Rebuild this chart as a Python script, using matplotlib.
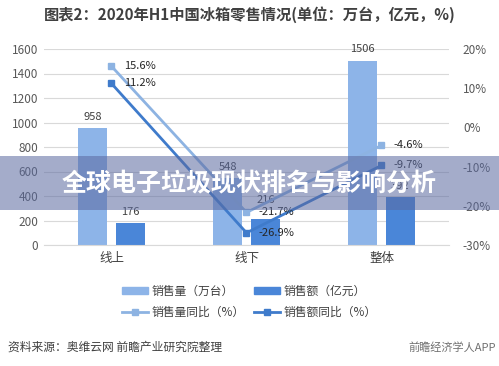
import numpy as np
import matplotlib.pyplot as plt
from matplotlib.patches import Rectangle
from matplotlib.lines import Line2D
from matplotlib.patches import Patch

plt.rcParams['font.family'] = ['Noto Sans CJK SC', 'DejaVu Sans']

categories = ['线上', '线下', '整体']
sales_volume = [958, 548, 1506]      # 销售量（万台）
sales_amount = [176, 216, 392]       # 销售额（亿元）
volume_yoy = [15.6, -21.7, -4.6]     # 销售量同比（%）
amount_yoy = [11.2, -26.9, -9.7]     # 销售额同比（%）

c_light = '#8DB4E8'
c_dark = '#4A86D8'
c_line_light = '#8DB3E2'
c_line_dark = '#3F7BCB'

fig = plt.figure(figsize=(4.99, 3.66), dpi=100)
ax1 = fig.add_axes([44 / 499, 1 - 245 / 366, 405 / 499, 196 / 366])

x = np.arange(len(categories))
w = 0.22
off = 0.14
ax1.bar(x - off, sales_volume, w, color=c_light, zorder=2)
ax1.bar(x + off, sales_amount, w, color=c_dark, zorder=2)
# 数据标签，线下销售额标签上移避免与折线标签重叠
amt_label_gap = [50, 110, 50]
for i in range(len(x)):
    ax1.text(x[i] - off, sales_volume[i] + 50, str(sales_volume[i]),
             ha='center', va='bottom', fontsize=8, color='#404040')
    ax1.text(x[i] + off, sales_amount[i] + amt_label_gap[i], str(sales_amount[i]),
             ha='center', va='bottom', fontsize=8, color='#404040')

ax1.set_xlim(-0.5, 2.5)
ax1.set_ylim(0, 1600)
ax1.set_yticks(range(0, 1601, 200))
ax1.set_xticks(x)
ax1.set_xticklabels(categories, fontsize=9, color='#404040')
ax1.tick_params(axis='y', labelsize=8.5, colors='#595959', length=0, pad=4)
ax1.tick_params(axis='x', length=0, pad=5)
ax1.grid(axis='y', color='#D9D9D9', linewidth=0.8, zorder=0)
for s in ['top', 'left', 'right']:
    ax1.spines[s].set_visible(False)
ax1.spines['bottom'].set_color('#D9D9D9')

ax2 = ax1.twinx()
ax2.plot(x, volume_yoy, color=c_line_light, marker='s', markersize=4, linewidth=2, zorder=3)
ax2.plot(x, amount_yoy, color=c_line_dark, marker='s', markersize=4, linewidth=2, zorder=3)
for i in range(len(x)):
    ax2.text(x[i] + 0.09, volume_yoy[i], '%.1f%%' % volume_yoy[i],
             ha='left', va='center', fontsize=8, color='#262626')
    ax2.text(x[i] + 0.09, amount_yoy[i], '%.1f%%' % amount_yoy[i],
             ha='left', va='center', fontsize=8, color='#262626')
ax2.set_ylim(-30, 20)
ax2.set_yticks(range(-30, 21, 10))
ax2.set_yticklabels(['%d%%' % v for v in range(-30, 21, 10)])
ax2.tick_params(axis='y', labelsize=8.5, colors='#595959', length=0, pad=10)
for s in ['top', 'left', 'right', 'bottom']:
    ax2.spines[s].set_visible(False)

fig.text(0.5, 1 - 15 / 366, '图表2：2020年H1中国冰箱零售情况(单位：万台，亿元，%)',
         ha='center', va='center', fontsize=11, fontweight='bold', color='#404040')

# 图例按列填充：第一行为柱，第二行为折线
handles = [Patch(color=c_light),
           Line2D([], [], color=c_line_light, marker='s', markersize=4, linewidth=2),
           Patch(color=c_dark),
           Line2D([], [], color=c_line_dark, marker='s', markersize=4, linewidth=2)]
labels = ['销售量（万台）', '销售量同比（%）', '销售额（亿元）', '销售额同比（%）']
fig.legend(handles, labels, ncol=2, loc='center', bbox_to_anchor=(0.5, 1 - 302 / 366),
           frameon=False, fontsize=8.5, handlelength=2.2, handleheight=0.6,
           columnspacing=0.8, handletextpad=0.3, labelspacing=0.7,
           labelcolor='#404040')

fig.text(8 / 499, 1 - 347 / 366, '资料来源：奥维云网 前瞻产业研究院整理',
         ha='left', va='center', fontsize=8.5, color='#404040')
fig.text(496 / 499, 1 - 347 / 366, '前瞻经济学人APP',
         ha='right', va='center', fontsize=8, color='#707070')

# 半透明横幅
fig.patches.append(Rectangle((0, 1 - 210 / 366), 1, 54 / 366, transform=fig.transFigure,
                             facecolor='#5A69A0', alpha=0.55, edgecolor='none', zorder=5))
fig.text(0.5, 1 - 184 / 366, '全球电子垃圾现状排名与影响分析', ha='center', va='center',
         fontsize=18, fontweight='bold', color='white', zorder=6)

fig.savefig('out.png', dpi=100)
